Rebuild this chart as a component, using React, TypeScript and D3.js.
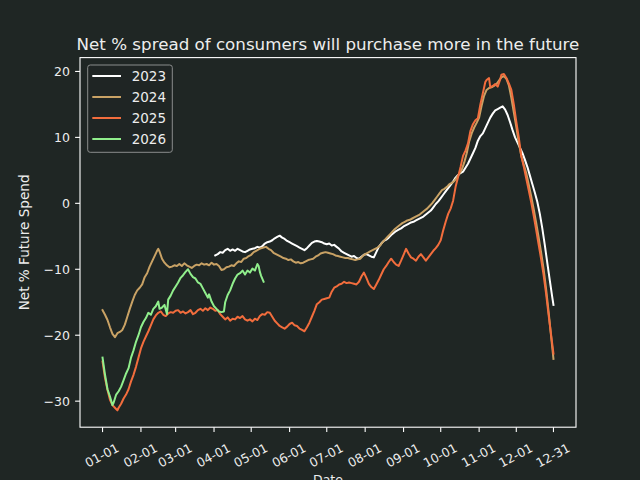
import React from "react";
import * as d3 from "d3";

const title = "Net % spread of consumers will purchase more in the future";
const xLabel = "Date";
const yLabel = "Net % Future Spend";
const tickDates = ["2023-01-01","2023-02-01","2023-03-01","2023-04-01","2023-05-01","2023-06-01","2023-07-01","2023-08-01","2023-09-01","2023-10-01","2023-11-01","2023-12-01","2023-12-31"];
const yTicks = [-30, -20, -10, 0, 10, 20];
const seriesNames = ["2023", "2024", "2025", "2026"];
const seriesColors = ["#ffffff", "#c9a265", "#f26d3d", "#90ee8c"];

// [day of year, value]
const s2023: [number, number][] = [
[91,-7.9],[93,-7.7],[95,-7.4],[97,-7.5],[99,-7.1],[101,-6.9],[103,-7.2],[105,-7],[107,-7.2],[109,-6.9],[111,-7.1],[113,-7.3],[115,-7.4],[117,-7.2],[119,-7],[121,-6.9],[123,-6.8],[125,-6.6],[127,-6.7],[129,-6.5],[131,-6.1],[133,-5.9],[135,-5.8],[137,-5.6],[139,-5.3],[141,-5.1],[143,-4.9],[145,-5.2],[147,-5.4],[149,-5.7],[151,-5.9],[153,-6.1],[155,-6.3],[157,-6.5],[159,-6.7],[161,-6.9],[163,-7.1],[165,-6.8],[167,-6.4],[169,-6],[171,-5.8],[173,-5.7],[175,-5.8],[177,-5.9],[179,-6.1],[181,-6.2],[183,-6.1],[185,-6.4],[187,-6.3],[189,-6.6],[191,-6.9],[193,-7.3],[195,-7.5],[197,-7.7],[199,-7.9],[201,-8.1],[203,-8],[205,-8.3],[207,-8.4],[209,-8.1],[211,-7.8],[213,-7.7],[215,-7.9],[217,-8.1],[219,-8.2],[221,-7.4],[223,-6.6],[225,-6.1],[227,-5.7],[229,-5.5],[231,-5.2],[233,-4.8],[235,-4.5],[237,-4.2],[239,-4],[241,-3.8],[243,-3.5],[245,-3.3],[247,-3.1],[249,-2.9],[251,-2.8],[253,-2.6],[255,-2.4],[257,-2.2],[259,-2],[261,-1.7],[263,-1.4],[265,-1.1],[267,-0.6],[269,-0.1],[271,0.3],[273,0.8],[275,1.3],[277,1.8],[279,2.3],[281,2.8],[283,3.3],[285,3.9],[287,4.3],[289,4.6],[291,4.8],[293,5.4],[295,6],[297,6.8],[299,7.6],[301,8.4],[303,9.5],[305,10.2],[307,10.6],[309,11.4],[311,12.2],[313,13],[315,13.6],[317,14.1],[319,14.3],[321,14.5],[323,14.7],[325,14.2],[327,13.4],[329,12.3],[331,11.1],[333,10],[335,9.2],[337,8.4],[339,7.6],[341,6.6],[343,5.5],[345,4.2],[347,2.9],[349,1.6],[351,0.2],[353,-1.6],[355,-3.8],[357,-6.3],[359,-9],[361,-11.6],[363,-14.2],[364,-15.4]
];

const s2024: [number, number][] = [
[0,-16.2],[2,-16.9],[4,-17.7],[6,-18.8],[8,-19.8],[10,-20.3],[12,-19.7],[14,-19.5],[16,-19.2],[18,-18.4],[20,-17.2],[22,-16],[24,-14.9],[26,-13.9],[28,-13.2],[30,-12.8],[32,-12.3],[34,-11.2],[36,-10.6],[38,-9.6],[40,-8.8],[42,-8],[44,-7.2],[45,-6.9],[46,-7.3],[48,-8.4],[50,-9],[52,-9.4],[54,-9.7],[56,-9.6],[58,-9.4],[60,-9.5],[62,-9.2],[64,-9.5],[66,-9.1],[68,-9.4],[70,-9.6],[72,-9.8],[74,-9.5],[76,-9.3],[78,-9.4],[80,-9.1],[82,-9.3],[84,-9.2],[86,-9.4],[88,-9],[90,-9.3],[92,-9.2],[94,-9.5],[96,-10.1],[98,-10],[100,-9.7],[102,-9.6],[104,-9.4],[106,-9.5],[108,-9.1],[110,-8.8],[112,-8.9],[114,-8.4],[116,-8.3],[118,-8],[120,-7.8],[122,-7.4],[124,-7.2],[126,-7],[128,-6.8],[130,-6.7],[132,-6.6],[134,-6.9],[136,-7.1],[138,-7.5],[140,-7.7],[142,-7.9],[144,-8.1],[146,-8.3],[148,-8.4],[150,-8.6],[152,-8.5],[154,-8.8],[156,-9],[158,-8.9],[160,-9.1],[162,-9],[164,-8.8],[166,-8.6],[168,-8.5],[170,-8.4],[172,-8.1],[174,-7.9],[176,-7.6],[178,-7.5],[180,-7.4],[182,-7.5],[184,-7.6],[186,-7.7],[188,-7.9],[190,-8],[192,-8.1],[194,-8.2],[196,-8.3],[198,-8.3],[200,-8.4],[202,-8.5],[204,-8.6],[206,-8.5],[208,-8.4],[210,-8],[212,-7.7],[214,-7.5],[216,-7.3],[218,-7.1],[220,-6.9],[222,-6.7],[224,-6.4],[226,-5.9],[228,-5.5],[230,-5.1],[232,-4.7],[234,-4.3],[236,-3.9],[238,-3.6],[240,-3.3],[242,-3],[244,-2.8],[246,-2.6],[248,-2.5],[250,-2.3],[252,-2.1],[254,-1.9],[256,-1.7],[258,-1.4],[260,-1.1],[262,-0.8],[264,-0.4],[266,0],[268,0.5],[270,1],[272,1.5],[274,2],[276,2.2],[278,2.5],[280,2.9],[282,3.1],[284,3.4],[286,3.9],[288,4.5],[290,5.1],[292,6.2],[294,7.6],[296,9.4],[298,10.6],[300,11.5],[302,12.2],[304,13],[306,14.8],[308,16.3],[310,17.2],[312,17.5],[314,17.6],[316,17.8],[318,18.1],[320,18.6],[322,19.1],[324,19.3],[326,18.9],[328,17.9],[330,16],[332,13.8],[334,11.6],[336,9.2],[338,7.2],[340,5.9],[342,4.6],[344,2.9],[346,1.1],[348,-0.8],[350,-2.9],[352,-5.1],[354,-7.4],[356,-9.9],[358,-12.9],[360,-16.3],[362,-20],[364,-23.6]
];

const s2025: [number, number][] = [
[0,-24],[2,-26.5],[4,-28.3],[6,-29.8],[8,-30.6],[10,-31],[12,-31.4],[13,-31],[15,-30.4],[17,-29.6],[19,-29],[21,-28.2],[23,-27],[25,-26],[27,-24.8],[29,-23.4],[31,-22],[33,-21],[35,-20.2],[37,-19.4],[39,-18.5],[41,-17.6],[43,-17],[45,-16.6],[47,-16.4],[49,-16.9],[51,-17.1],[53,-16.7],[55,-16.5],[57,-16.6],[59,-16.3],[61,-16.2],[63,-16.6],[65,-16.4],[67,-16.7],[69,-16.5],[71,-16.2],[73,-16.8],[75,-16.6],[77,-16.2],[79,-16],[81,-16.3],[83,-15.9],[85,-16.2],[87,-15.8],[89,-16],[91,-16.3],[93,-16.2],[95,-16.8],[97,-17.2],[99,-17.6],[101,-17.3],[103,-17.8],[105,-17.5],[107,-17.6],[109,-17.2],[111,-17.4],[113,-17.1],[115,-17.6],[117,-17.8],[119,-17.6],[121,-17.9],[123,-17.5],[125,-17.7],[127,-17.1],[129,-16.8],[131,-16.9],[133,-16.5],[135,-16.6],[137,-17.2],[139,-17.8],[141,-18.2],[143,-18.6],[145,-18.8],[147,-19],[149,-18.7],[151,-18.3],[153,-18.1],[155,-18.5],[157,-18.6],[159,-19],[161,-19.2],[163,-19.4],[165,-18.8],[167,-18.1],[169,-17.2],[171,-16.3],[173,-15.3],[175,-15],[177,-14.6],[179,-14.5],[181,-14.4],[183,-14.3],[185,-13.4],[187,-12.8],[189,-12.6],[191,-12.3],[193,-12.2],[195,-11.9],[197,-12.1],[199,-12],[201,-12.1],[203,-12.2],[205,-12.3],[207,-11.9],[209,-11.1],[211,-10.5],[213,-11.3],[215,-12.2],[217,-12.7],[219,-13],[221,-12.3],[223,-11.6],[225,-10.8],[227,-10],[229,-9.5],[231,-8.9],[233,-8.4],[235,-8.9],[237,-9.3],[239,-9.5],[241,-8.7],[243,-7.8],[245,-6.9],[247,-7.6],[249,-8.2],[251,-8.4],[253,-8.7],[255,-8.1],[257,-7.7],[259,-8.2],[261,-8.7],[263,-8.2],[265,-7.7],[267,-7.2],[269,-6.8],[271,-6.3],[273,-5.6],[275,-4.1],[277,-2.8],[279,-1.6],[281,-0.8],[283,0.4],[285,2.5],[287,4],[289,5.5],[291,7.2],[293,8],[295,9.1],[297,11],[299,12],[301,12.6],[303,12.9],[305,15],[307,16.7],[309,18.4],[310,18.7],[312,19],[313,17.6],[315,17.8],[317,18.1],[319,17.7],[321,18.8],[322,19.5],[324,19.6],[326,19],[328,18.2],[330,17.2],[332,15],[334,12.4],[336,10],[338,7.2],[340,5.6],[342,3.8],[344,2],[346,0.2],[348,-1.8],[350,-4],[352,-6.2],[354,-8.4],[356,-10.8],[358,-13.6],[360,-16.8],[362,-19.8],[364,-22.8]
];

const s2026: [number, number][] = [
[0,-23.4],[2,-26],[4,-28.2],[6,-29.3],[8,-30.6],[9,-30.2],[11,-29],[13,-28.5],[15,-27.8],[17,-26.8],[19,-25.8],[21,-25],[23,-23.4],[25,-22.3],[27,-21],[29,-20],[31,-18.8],[33,-18],[35,-17.4],[37,-16.6],[39,-16.9],[41,-16],[43,-15.6],[45,-14.9],[46,-16],[48,-15.8],[50,-15.4],[52,-16.8],[53,-14.6],[55,-14],[57,-13.2],[59,-12.6],[61,-12],[63,-11.3],[65,-10.9],[67,-10.4],[69,-10],[71,-10.7],[73,-11.2],[75,-11.4],[77,-12],[79,-12.2],[81,-12.9],[83,-13.6],[85,-14.3],[86,-13.8],[88,-14.9],[90,-15.6],[92,-16],[94,-16.4],[96,-16.5],[98,-16.4],[99,-15],[101,-13.9],[103,-13.2],[105,-12.2],[107,-11.4],[109,-10.8],[111,-10.6],[113,-10.2],[115,-10.8],[117,-10.2],[119,-10.5],[121,-9.9],[123,-10.2],[125,-9.2],[126,-9.5],[127,-10.4],[128,-11],[130,-11.9]
];

const allSeries = [s2023, s2024, s2025, s2026];

const W = 640, H = 480;
const L = 80, R = 576, T = 57.6, B = 427.2;
const BG = "#1f2624";
const FG = "#ededed";
const FONT = "'DejaVu Sans', sans-serif";

export default function App() {
  const parse = d3.timeParse("%Y-%m-%d");
  const fmt = d3.timeFormat("%m-%d");
  const dates = tickDates.map((s) => parse(s) as Date);
  const tickDays = dates.map((d) => d3.timeDay.count(d3.timeYear(d), d));

  const x = d3.scaleLinear().domain([-18.2, 382.2]).range([L, R]);
  const y = d3.scaleLinear().domain([-33.95, 22.1]).range([B, T]);
  const line = d3.line<[number, number]>().x((d) => x(d[0])).y((d) => y(d[1]));

  return (
    <svg width={W} height={H} style={{ position: "fixed", left: 0, top: 0, background: BG }} fontFamily={FONT}>
      <rect x={0} y={0} width={W} height={H} fill={BG} />
      <defs>
        <clipPath id="plotclip"><rect x={L} y={T} width={R - L} height={B - T} /></clipPath>
      </defs>
      <g clipPath="url(#plotclip)">
        {allSeries.map((s, i) => (
          <path key={i} d={line(s) || ""} fill="none" stroke={seriesColors[i]} strokeWidth={2} strokeLinejoin="round" strokeLinecap="square" />
        ))}
      </g>
      <rect x={L} y={T} width={R - L} height={B - T} fill="none" stroke="#ffffff" strokeWidth={1.1} />
      {yTicks.map((t) => (
        <g key={t}>
          <line x1={L - 4.9} x2={L} y1={y(t)} y2={y(t)} stroke="#ffffff" strokeWidth={1.1} />
          <text x={L - 10} y={y(t)} dy="0.36em" textAnchor="end" fontSize={12.5} fill={FG}>
            {t < 0 ? "\u2212" + Math.abs(t) : String(t)}
          </text>
        </g>
      ))}
      {tickDays.map((d, i) => (
        <g key={i}>
          <line x1={x(d)} x2={x(d)} y1={B} y2={B + 4.9} stroke="#ffffff" strokeWidth={1.1} />
          <text transform={`translate(${x(d) + 1.5},${B + 32}) rotate(-28)`} textAnchor="middle" fontSize={12.5} fill={FG}>
            {fmt(dates[i])}
          </text>
        </g>
      ))}
      <text x={(L + R) / 2} y={49.5} textAnchor="middle" fontSize={16.7} fill={FG}>{title}</text>
      <text x={(L + R) / 2} y={484} textAnchor="middle" fontSize={12.5} fill={FG}>{xLabel}</text>
      <text transform={`translate(29.3,${(T + B) / 2}) rotate(-90)`} textAnchor="middle" fontSize={13.6} fill={FG}>{yLabel}</text>
      <g>
        <rect x={87.7} y={65} width={84.6} height={87.3} rx={2.5} fill={BG} fillOpacity={0.8} stroke="#8a8d8c" strokeWidth={1} />
        {seriesNames.map((n, i) => {
          const cy = 76 + i * 21;
          return (
            <g key={n}>
              <line x1={92.3} x2={121} y1={cy} y2={cy} stroke={seriesColors[i]} strokeWidth={2} />
              <text x={131.7} y={cy} dy="0.36em" fontSize={13.5} fill={FG}>{n}</text>
            </g>
          );
        })}
      </g>
    </svg>
  );
}
